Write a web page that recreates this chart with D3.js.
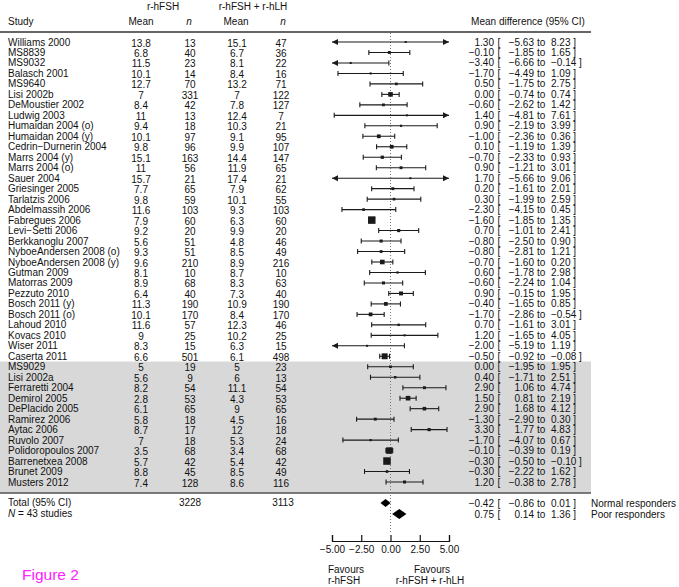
<!DOCTYPE html>
<html>
<head>
<meta charset="utf-8">
<script src="https://cdn.jsdelivr.net/npm/d3@7"></script>
<style>
  body { margin: 0; background: #fff; }
  svg text { font-family: "Liberation Sans", Arial, sans-serif; fill: #111; }
</style>
</head>
<body>
<div id="chart"></div>
<script>
var studies = ["Williams 2000", "MS8839", "MS9032", "Balasch 2001", "MS9640", "Lisi 2002b",
    "DeMoustier 2002", "Ludwig 2003", "Humaidan 2004 (o)", "Humaidan 2004 (y)",
    "Cedrin\u2212Durnerin 2004", "Marrs 2004 (y)", "Marrs 2004 (o)", "Sauer 2004",
    "Griesinger 2005", "Tarlatzis 2006", "Abdelmassih 2006", "Fabregues 2006",
    "Levi\u2212Setti 2006", "Berkkanoglu 2007", "NyboeAndersen 2008 (o)", "NyboeAndersen 2008 (y)",
    "Gutman 2009", "Matorras 2009", "Pezzuto 2010", "Bosch 2011 (y)", "Bosch 2011 (o)",
    "Lahoud 2010", "Kovacs 2010", "Wiser 2011", "Caserta 2011",
    "MS9029", "Lisi 2002a", "Ferraretti 2004", "Demirol 2005", "DePlacido 2005",
    "Ramirez 2006", "Aytac 2006", "Ruvolo 2007", "Polidoropoulos 2007", "Barrenetxea 2008",
    "Brunet 2009", "Musters 2012"];

var meanFSH = [13.8, 6.8, 11.5, 10.1, 12.7, 7, 8.4, 11, 9.4, 10.1, 9.8, 15.1, 11, 15.7, 7.7, 9.8,
    11.6, 7.9, 9.2, 5.6, 9.3, 9.6, 8.1, 8.9, 6.4, 11.3, 10.1, 11.6, 9, 8.3, 6.6,
    5, 5.6, 8.2, 2.8, 6.1, 5.8, 8.7, 7, 3.5, 5.7, 8.8, 7.4];
var nFSH = [13, 40, 23, 14, 70, 331, 42, 13, 18, 97, 96, 163, 56, 21, 65, 59, 103, 60, 20, 51,
    51, 210, 10, 68, 40, 190, 170, 57, 25, 15, 501,
    19, 9, 54, 53, 65, 18, 17, 18, 68, 42, 45, 128];
var meanLH = [15.1, 6.7, 8.1, 8.4, 13.2, 7, 7.8, 12.4, 10.3, 9.1, 9.9, 14.4, 11.9, 17.4, 7.9, 10.1,
    9.3, 6.3, 9.9, 4.8, 8.5, 8.9, 8.7, 8.3, 7.3, 10.9, 8.4, 12.3, 10.2, 6.3, 6.1,
    5, 6, 11.1, 4.3, 9, 4.5, 12, 5.3, 3.4, 5.4, 8.5, 8.6];
var nLH = [47, 36, 22, 16, 71, 122, 127, 7, 21, 95, 107, 147, 65, 21, 62, 55, 103, 60, 20, 46,
    49, 216, 10, 63, 40, 190, 170, 46, 25, 15, 498,
    23, 13, 54, 53, 65, 16, 18, 24, 68, 42, 49, 116];

var md = [1.30, -0.10, -3.40, -1.70, 0.50, 0.00, -0.60, 1.40, 0.90, -1.00, 0.10, -0.70, 0.90, 1.70,
    0.20, 0.30, -2.30, -1.60, 0.70, -0.80, -0.80, -0.70, 0.60, -0.60, 0.90, -0.40, -1.70, 0.70,
    1.20, -2.00, -0.50,
    0.00, 0.40, 2.90, 1.50, 2.90, -1.30, 3.30, -1.70, -0.10, -0.30, -0.30, 1.20];
var ciLow = [-5.63, -1.85, -6.66, -4.49, -1.75, -0.74, -2.62, -4.81, -2.19, -2.36, -1.19, -2.33, -1.21,
    -5.66, -1.61, -1.99, -4.15, -1.85, -1.01, -2.50, -2.81, -1.60, -1.78, -2.24, -0.15, -1.65,
    -2.86, -1.61, -1.65, -5.19, -0.92,
    -1.95, -1.71, 1.06, 0.81, 1.68, -2.90, 1.77, -4.07, -0.39, -0.50, -2.22, -0.38];
var ciHigh = [8.23, 1.65, -0.14, 1.09, 2.75, 0.74, 1.42, 7.61, 3.99, 0.36, 1.39, 0.93, 3.01, 9.06,
    2.01, 2.59, 0.45, 1.35, 2.41, 0.90, 1.21, 0.20, 2.98, 1.04, 1.95, 0.85, -0.54, 3.01, 4.05,
    1.19, -0.08,
    1.95, 2.51, 4.74, 2.19, 4.12, 0.30, 4.83, 0.67, 0.19, -0.10, 1.62, 2.78];
// study weight (%)
var weight = [0.3, 1.2, 0.5, 0.6, 1.0, 3.0, 1.1, 0.4, 0.7, 2.0, 2.0, 1.5, 1.2, 0.4, 1.2, 1.0, 1.0,
    8.0, 1.4, 1.3, 1.1, 3.0, 0.7, 1.3, 2.2, 2.0, 2.0, 0.8, 0.6, 0.5, 5.0,
    1.0, 0.9, 1.2, 3.0, 1.8, 1.2, 1.4, 0.7, 6.0, 8.0, 1.0, 1.3];
var noIntervalDrawn = ["Fabregues 2006"];
var nNormal = 31;   // first 31 rows normal responders, rest poor responders

var totalFSH = 3228, totalLH = 3113;
var pooledLabels = ["Normal responders", "Poor responders"];
var pooledMd = [-0.42, 0.75];
var pooledLow = [-0.86, 0.14];
var pooledHigh = [0.01, 1.36];
var axisTicks = [-5, -2.5, 0, 2.5, 5];

var W = 679, H = 587;
var svg = d3.select("#chart").append("svg").attr("width", W).attr("height", H);

var x = d3.scaleLinear().domain([-5, 5]).range([332, 449]);
var y = d3.scaleLinear().domain([0, studies.length - 1]).range([42, 482]);
var boxSize = d3.scaleSqrt().domain([0, 8]).range([0, 7.5]);
var fmt = d3.format(".2f");
var fs = 10;
var ink = "#1a1a1a";

var rows = studies.map(function(s, i) {
    return {study: s, m1: meanFSH[i], n1: nFSH[i], m2: meanLH[i], n2: nLH[i],
        md: md[i], lo: ciLow[i], hi: ciHigh[i], w: weight[i], i: i};
});

// poor responder band
var bandTop = (y(nNormal - 1) + y(nNormal)) / 2;
svg.append("rect").attr("x", 0).attr("y", bandTop).attr("width", 591)
    .attr("height", 493 - bandTop).attr("fill", "#d8d8d8");

// rules
svg.append("line").attr("x1", 0).attr("x2", 591).attr("y1", 32).attr("y2", 32)
    .attr("stroke", "#333").attr("stroke-width", 1.5);
svg.append("line").attr("x1", 0).attr("x2", 591).attr("y1", 493).attr("y2", 493)
    .attr("stroke", "#555").attr("stroke-width", 1.5);

function txt(g, xp, yp, s, anchor, extra) {
    var t = g.append("text").attr("x", xp).attr("y", yp).attr("font-size", fs)
        .attr("text-anchor", anchor || "start").text(s);
    if (extra) extra(t);
    return t;
}

// header
var head = svg.append("g");
txt(head, 163, 10, "r-hFSH", "middle");
txt(head, 253, 10, "r-hFSH + r-hLH", "middle");
txt(head, 8, 25, "Study");
txt(head, 141, 25, "Mean", "middle");
txt(head, 189, 25, "n", "middle", function(t){ t.attr("font-style", "italic"); });
txt(head, 236, 25, "Mean", "middle");
txt(head, 283, 25, "n", "middle", function(t){ t.attr("font-style", "italic"); });
txt(head, 528, 25, "Mean difference (95% CI)", "middle");

// zero line
svg.append("line").attr("x1", x(0)).attr("x2", x(0)).attr("y1", 33).attr("y2", 532)
    .attr("stroke", "#777").attr("stroke-dasharray", "1,2");

// table text
var rowG = svg.append("g").selectAll("g").data(rows).enter().append("g")
    .attr("transform", function(d) { return "translate(0," + (y(d.i) + 3.5) + ")"; });
rowG.append("text").attr("x", 8).attr("font-size", fs).text(function(d) { return d.study; });
rowG.append("text").attr("x", 141).attr("y", 1).attr("font-size", fs).attr("text-anchor", "middle")
    .text(function(d) { return String(d.m1); });
rowG.append("text").attr("x", 190).attr("y", 1).attr("font-size", fs).attr("text-anchor", "middle")
    .text(function(d) { return d.n1; });
rowG.append("text").attr("x", 237).attr("y", 1).attr("font-size", fs).attr("text-anchor", "middle")
    .text(function(d) { return String(d.m2); });
rowG.append("text").attr("x", 281).attr("y", 1).attr("font-size", fs).attr("text-anchor", "middle")
    .text(function(d) { return d.n2; });

function ciText(g, est, lo, hi) {
    g.append("text").attr("x", 494).attr("font-size", fs).attr("text-anchor", "end").text(fmt(est));
    g.append("text").attr("x", 497.5).attr("font-size", fs).text("[");
    g.append("text").attr("x", 534).attr("font-size", fs).attr("text-anchor", "end").text(fmt(lo));
    g.append("text").attr("x", 537).attr("font-size", fs).text("to");
    g.append("text").attr("x", 551).attr("font-size", fs).text(fmt(hi) + " ]");
}
rowG.each(function(d) { ciText(d3.select(this), d.md, d.lo, d.hi); });

// intervals
var lim = x.domain();
var marks = svg.append("g").selectAll("g").data(rows).enter().append("g")
    .attr("transform", function(d) { return "translate(0," + y(d.i) + ")"; });
marks.each(function(d) {
    var g = d3.select(this);
    if (noIntervalDrawn.indexOf(d.study) < 0) {
        var a = Math.max(d.lo, lim[0]), b = Math.min(d.hi, lim[1]);
        g.append("line").attr("x1", x(a)).attr("x2", x(b)).attr("stroke", ink).attr("stroke-width", 1.1);
        if (d.lo >= lim[0]) {
            g.append("line").attr("x1", x(d.lo)).attr("x2", x(d.lo)).attr("y1", -2.5).attr("y2", 2.5)
                .attr("stroke", ink).attr("stroke-width", 1.1);
        } else {
            var t = x(lim[0]);
            g.append("path").attr("d", "M" + t + ",0L" + (t + 6) + ",-3L" + (t + 6) + ",3Z").attr("fill", ink);
        }
        if (d.hi <= lim[1]) {
            g.append("line").attr("x1", x(d.hi)).attr("x2", x(d.hi)).attr("y1", -2.5).attr("y2", 2.5)
                .attr("stroke", ink).attr("stroke-width", 1.1);
        } else {
            var t2 = x(lim[1]);
            g.append("path").attr("d", "M" + t2 + ",0L" + (t2 - 6) + ",-3L" + (t2 - 6) + ",3Z").attr("fill", ink);
        }
    }
    var s = Math.max(boxSize(d.w), 2);
    g.append("rect").attr("x", x(d.md) - s / 2).attr("y", -s / 2).attr("width", s).attr("height", s)
        .attr("fill", ink);
});

// totals
var tot = svg.append("g");
txt(tot, 8, 506, "Total (95% CI)");
txt(tot, 190, 506, totalFSH, "middle");
txt(tot, 283, 506, totalLH, "middle");
var nt = txt(tot, 8, 517, "");
nt.append("tspan").attr("font-style", "italic").text("N");
nt.append("tspan").text(" = " + studies.length + " studies");

var pooledY = [503, 514], pooledH = [4, 5];
pooledMd.forEach(function(m, k) {
    var yy = pooledY[k], h = pooledH[k];
    svg.append("path")
        .attr("d", "M" + x(pooledLow[k]) + "," + yy + "L" + x(m) + "," + (yy - h) + "L" +
            x(pooledHigh[k]) + "," + yy + "L" + x(m) + "," + (yy + h) + "Z")
        .attr("fill", "#000");
    var g = svg.append("g").attr("transform", "translate(0," + (yy + 3.5) + ")");
    ciText(g, m, pooledLow[k], pooledHigh[k]);
    g.append("text").attr("x", 591).attr("font-size", fs).text(pooledLabels[k]);
});

// axis
var axis = svg.append("g").attr("transform", "translate(0,541)")
    .call(d3.axisBottom(x).tickValues(axisTicks).tickSize(-6).tickPadding(5).tickFormat(fmt));
axis.selectAll("path, line").attr("stroke", "#111").attr("stroke-width", 1.2);
axis.selectAll("text").attr("font-size", fs).attr("font-family", "Liberation Sans, Arial, sans-serif")
    .attr("fill", "#111");

txt(svg, 346, 573, "Favours", "middle");
txt(svg, 344, 584, "r-hFSH", "middle");
txt(svg, 432, 573, "Favours", "middle");
txt(svg, 430, 584, "r-hFSH + r-hLH", "middle");

svg.append("text").attr("x", 22).attr("y", 580).attr("font-size", 15.5)
    .style("fill", "#ff22ff").text("Figure 2");
</script>
</body>
</html>
